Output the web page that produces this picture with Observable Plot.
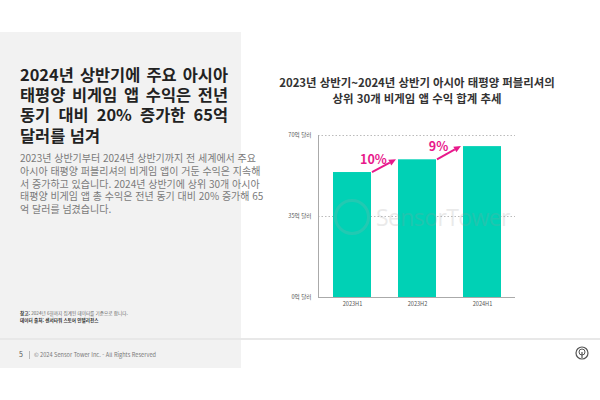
<!DOCTYPE html>
<html lang="ko">
<head>
<meta charset="utf-8">
<script src="https://cdn.jsdelivr.net/npm/d3@7"></script>
<script src="https://cdn.jsdelivr.net/npm/@observablehq/plot@0.6"></script>
<style>
  html, body { margin: 0; padding: 0; background: #fff; }
  body { width: 600px; height: 400px; position: relative; overflow: hidden;
         font-family: "Noto Sans CJK KR", "Noto Sans", sans-serif; }
  .panel { position: absolute; left: 0; top: 32px; width: 241px; height: 336px; background: #f2f2f2; }
  .sep { position: absolute; left: 0; top: 338px; width: 600px; height: 2px; background: #e8e8e8; }
  .head { position: absolute; left: 20px; top: 64px; width: 208px; font-size: 16.4px; font-weight: 700;
          color: #222; line-height: 20.2px; }
  .head div, .body div { text-align: justify; text-align-last: justify; white-space: nowrap; }
  .head div.last, .body div.last { text-align-last: left; }
  .body { position: absolute; left: 20px; top: 152px; width: 208px; font-size: 10px; color: #7a7a7a;
          line-height: 12.8px; }
  .note { position: absolute; left: 20px; top: 310px; font-size: 4.6px; color: #666; line-height: 6.5px; }
  .note b { color: #333; }
  .footer { position: absolute; left: 19px; top: 349px; font-size: 5.6px; color: #777; }
  .footer .pg { font-size: 7px; color: #555; margin-right: 6px; }
  .footer .bar { display: inline-block; width: 1px; height: 8px; background: #bbb; vertical-align: middle; margin-right: 4px; }
  .ctitle { position: absolute; left: 260px; top: 75px; width: 314px; text-align: center; font-size: 11.4px;
            font-weight: 700; color: #333; line-height: 15.5px; }
  #chart { position: absolute; left: 260px; top: 120px; }
  .wm { position: absolute; left: 334px; top: 199px; pointer-events: none; opacity: 0.2; display: flex; align-items: center; }
  .wm .ring { width: 36px; height: 36px; border: 3px solid #aaa; border-radius: 50%; box-sizing: border-box; margin-right: 6px; }
  .wm span { font-family: "Open Sans", sans-serif; font-size: 23px; color: #999; letter-spacing: -0.6px; }
  .logo { position: absolute; left: 575px; top: 346px; }
</style>
</head>
<body>
<div class="panel"></div>
<div class="sep"></div>
<div class="head">
  <div>2024년 상반기에 주요 아시아</div>
  <div>태평양 비게임 앱 수익은 전년</div>
  <div>동기 대비 20% 증가한 65억</div>
  <div class="last">달러를 넘겨</div>
</div>
<div class="body">
  <div>2023년 상반기부터 2024년 상반기까지 전 세계에서 주요</div>
  <div>아시아 태평양 퍼블리셔의 비게임 앱이 거둔 수익은 지속해</div>
  <div>서 증가하고 있습니다. 2024년 상반기에 상위 30개 아시아</div>
  <div>태평양 비게임 앱 총 수익은 전년 동기 대비 20% 증가해 65</div>
  <div class="last">억 달러를 넘겼습니다.</div>
</div>
<div class="note"><b>참고:</b> 2024년 6월까지 집계된 데이터를 기준으로 합니다.<br><b>데이터 출처: 센서타워 스토어 인텔리전스</b></div>
<div class="footer"><span class="pg">5</span><span class="bar"></span>© 2024 Sensor Tower Inc. - All Rights Reserved</div>
<div class="ctitle">2023년 상반기~2024년 상반기 아시아 태평양 퍼블리셔의<br>상위 30개 비게임 앱 수익 합계 추세</div>
<div id="chart"></div>
<div class="wm"><div class="ring"></div><span>SensorTower</span></div>
<svg class="logo" width="14" height="14" viewBox="0 0 14 14">
  <circle cx="7" cy="7" r="6" fill="none" stroke="#555" stroke-width="1.2"/>
  <circle cx="7" cy="6" r="3" fill="none" stroke="#555" stroke-width="1"/>
  <line x1="7" y1="6" x2="7" y2="12" stroke="#555" stroke-width="1.2"/>
</svg>
<script>
// Data
const periods = ["2023H1", "2023H2", "2024H1"];
const revenue = [54, 59.5, 65.2]; // 억 달러
const growthLabels = ["10%", "9%"]; // growth from period i to i+1
const yTicks = [0, 35, 70];
const yTickLabels = ["0억 달러", "35억 달러", "70억 달러"];

const data = periods.map((p, i) => ({period: p, value: revenue[i]}));
const growth = growthLabels.map((g, i) => ({
  label: g, from: periods[i], to: periods[i + 1], v1: revenue[i], v2: revenue[i + 1]
}));

const barColor = "#00d1b5";
const accent = "#e8198b";

const arrows = Plot.dot(growth, {
  x: "from", y: "v1",
  render(index, scales) {
    const sx = scales.x, sy = scales.y;
    const bw = typeof sx.bandwidth === "function" ? sx.bandwidth() : scales.scales.x.bandwidth;
    const g = d3.create("svg:g");
    for (const i of index) {
      const d = growth[i];
      const x1 = sx(d.from) + bw + 1, y1 = sy(d.v1);
      const x2 = sx(d.to) - 2, y2 = sy(d.v2);
      const ang = Math.atan2(y2 - y1, x2 - x1);
      const L = 7, W = 3.2;
      const bx = x2 - L * Math.cos(ang), by = y2 - L * Math.sin(ang);
      g.append("line").attr("x1", x1).attr("y1", y1).attr("x2", bx).attr("y2", by)
        .attr("stroke", accent).attr("stroke-width", 2);
      const px = -Math.sin(ang) * W, py = Math.cos(ang) * W;
      g.append("polygon")
        .attr("points", `${x2},${y2} ${bx + px},${by + py} ${bx - px},${by - py}`)
        .attr("fill", accent);
    }
    return g.node();
  }
});

const chart = Plot.plot({
  width: 280,
  height: 200,
  marginLeft: 58,
  marginRight: 25,
  marginTop: 15,
  marginBottom: 23,
  style: {fontFamily: "'Noto Sans CJK KR', sans-serif", background: "transparent"},
  x: {domain: periods, paddingInner: 0.42, paddingOuter: 0.21, label: null},
  y: {domain: [0, 70], label: null},
  marks: [
    Plot.gridY(yTicks.filter(t => t > 0), {stroke: "#bbb", strokeOpacity: 1, strokeDasharray: "1.5,2"}),
    Plot.barY(data, {x: "period", y: "value", fill: barColor}),
    Plot.ruleY([0], {stroke: "#aaa"}),
    Plot.frame({anchor: "left", stroke: "#aaa"}),
    Plot.axisY({ticks: yTicks, tickFormat: (d) => yTickLabels[yTicks.indexOf(d)], tickSize: 0,
      tickPadding: 7, fontSize: 5.6, fill: "#555", label: null}),
    Plot.axisX({tickSize: 0, tickPadding: 5, fontSize: 5.6, fill: "#555", label: null}),
    arrows,
    Plot.text(growth, {x: "from", y: "v2", text: "label", dx: 21, fill: accent,
      fontSize: 12.5, fontWeight: 700, textAnchor: "middle", lineAnchor: "middle"})
  ]
});
document.getElementById("chart").appendChild(chart);
</script>
</body>
</html>
